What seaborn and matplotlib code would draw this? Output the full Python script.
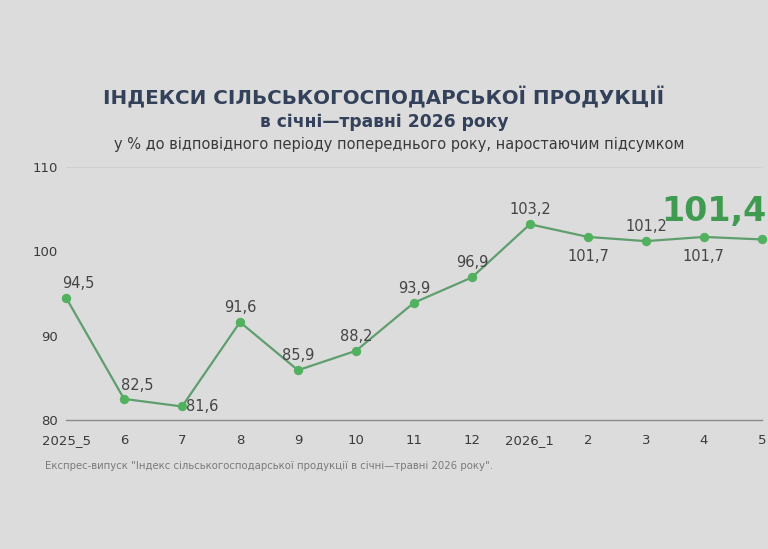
import matplotlib
matplotlib.use("Agg")
import matplotlib.pyplot as plt
import seaborn as sns
import pandas as pd

months = ["2025_5", "6", "7", "8", "9", "10", "11", "12", "2026_1", "2", "3", "4", "5"]
values = [94.5, 82.5, 81.6, 91.6, 85.9, 88.2, 93.9, 96.9, 103.2, 101.7, 101.2, 101.7, 101.4]
yticks = [80, 90, 100, 110]

bg = "#dcdcdc"
sns.set_theme(style="white")
plt.rcParams["font.family"] = ["DejaVu Sans"]

df = pd.DataFrame({"x": range(len(months)), "v": values})

fig = plt.figure(figsize=(7.68, 5.49), dpi=100, facecolor=bg)
ax = fig.add_axes([0.086, 0.235, 0.906, 0.461], facecolor=bg)

sns.lineplot(data=df, x="x", y="v", ax=ax, color="#5f9e6e", linewidth=1.6,
             marker="o", markersize=6, markerfacecolor="#52b15f",
             markeredgecolor="#52b15f", zorder=3)

ax.set_ylim(80, 110)
ax.set_xlim(0, len(months) - 1)
ax.set_yticks(yticks)
ax.set_yticklabels([str(t) for t in yticks], fontsize=9.5, color="#3a3a3a")
ax.set_xticks(range(len(months)))
ax.set_xticklabels(months, fontsize=9.5, color="#3a3a3a")
ax.set_xlabel("")
ax.set_ylabel("")
ax.axhline(110, color="#cfcfcf", linewidth=0.8, zorder=0)
for s in ["top", "right", "left"]:
    ax.spines[s].set_visible(False)
ax.spines["bottom"].set_color("#8a8a8a")
ax.spines["bottom"].set_linewidth(1.0)
ax.tick_params(axis="x", length=4, color="#8a8a8a", pad=6)
ax.tick_params(axis="y", length=0, pad=6)
for line in ax.lines:
    line.set_clip_on(False)

# offsets in points (dx, dy, ha, va)
offsets = [(-3, 5, "left", "bottom"), (-2, 4, "left", "bottom"), (3, 0, "left", "center"),
           (0, 5, "center", "bottom"), (0, 5, "center", "bottom"), (0, 5, "center", "bottom"),
           (0, 5, "center", "bottom"), (0, 5, "center", "bottom"), (0, 5, "center", "bottom"),
           (0, -9, "center", "top"), (0, 5, "center", "bottom"), (0, -9, "center", "top")]
for i, (v, off) in enumerate(zip(values[:-1], offsets)):
    dx, dy, ha, va = off
    label = f"{v:.1f}".replace(".", ",")
    ax.annotate(label, (i, v), xytext=(dx, dy), textcoords="offset points",
                ha=ha, va=va, fontsize=10.5, color="#454545")

last = len(values) - 1
ax.annotate(f"{values[-1]:.1f}".replace(".", ","), (last, values[-1]), xytext=(3, 8),
            textcoords="offset points", ha="right", va="bottom",
            fontsize=24, fontweight="bold", color="#3e9b4f")

fig.text(0.5, 0.822, "ІНДЕКСИ СІЛЬСЬКОГОСПОДАРСЬКОЇ ПРОДУКЦІЇ", ha="center", va="center",
         fontsize=14.3, fontweight="bold", color="#33425a")
fig.text(0.5, 0.778, "в січні—травні 2026 року", ha="center", va="center",
         fontsize=12.3, fontweight="bold", color="#33425a")
fig.text(0.52, 0.736, "у % до відповідного періоду попереднього року, наростаючим підсумком",
         ha="center", va="center", fontsize=10.5, color="#3a3a3a")
fig.text(0.059, 0.151, "Експрес-випуск \"Індекс сільськогосподарської продукції в січні—травні 2026 року\".",
         ha="left", va="center", fontsize=7.3, color="#7a7a7a")

fig.savefig("out.png", dpi=100, facecolor=bg)
